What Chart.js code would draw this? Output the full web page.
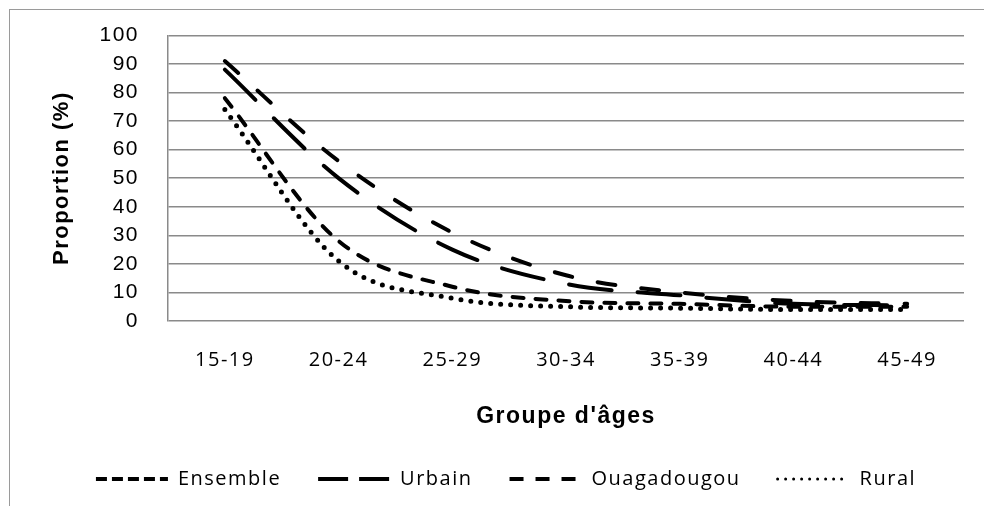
<!DOCTYPE html>
<html lang="fr">
<head>
    <meta charset="UTF-8">
    <title>Proportion par groupe d'âges</title>
    <script src="https://cdn.jsdelivr.net/npm/chart.js"></script>
    <style>
        html, body { margin: 0; padding: 0; background: #fff; }
        #wrap { width: 984px; height: 506px; }
    </style>
</head>
<body>
    <div id="wrap"><canvas id="ageChart"></canvas></div>

    <script>
        // Groupes d'âges et proportions (%)
        const groupes = ['15-19', '20-24', '25-29', '30-34', '35-39', '40-44', '45-49'];
        const ensemble = [78, 28, 12, 7, 6, 5, 5];
        const urbain = [88, 50, 25, 13, 9, 6, 5.5];
        const ouagadougou = [91, 56, 31, 16, 10, 7, 6];
        const rural = [74, 21, 8, 5, 4.5, 4, 4];

        // motifs de tirets pour la légende (plus courts que sur les courbes)
        const legendDash = [[11, 5], [30, 11], [14, 12], [0, 8]];

        const gridGray = '#8a8a8a';

        // cadre gris autour du graphique + espacement des lettres
        const framePlugin = {
            id: 'frame',
            beforeLayout(chart) {
                chart.ctx.letterSpacing = '1.5px';
            },
            beforeDraw(chart) {
                const ctx = chart.ctx;
                ctx.save();
                ctx.fillStyle = '#fff';
                ctx.fillRect(0, 0, chart.width, chart.height);
                ctx.strokeStyle = '#9a9a9a';
                ctx.lineWidth = 1;
                ctx.strokeRect(9.5, 9.5, chart.width + 50, chart.height + 50);
                ctx.restore();
                ctx.letterSpacing = '1.5px';
            }
        };

        const serie = (label, data, dash, width) => ({
            label: label,
            data: data,
            borderColor: '#000',
            backgroundColor: '#000',
            borderWidth: width,
            borderDash: dash,
            borderCapStyle: 'round',
            pointRadius: 0,
            cubicInterpolationMode: 'monotone',
            fill: false
        });

        new Chart(document.getElementById('ageChart'), {
            type: 'line',
            data: {
                labels: groupes,
                datasets: [
                    serie('Ensemble', ensemble, [11, 12], 4),
                    serie('Urbain', urbain, [43, 26], 4),
                    serie('Ouagadougou', ouagadougou, [18, 26], 4),
                    serie('Rural', rural, [0, 10], 5)
                ]
            },
            options: {
                responsive: true,
                maintainAspectRatio: false,
                animation: false,
                layout: { padding: { top: 28, right: 20, bottom: 7, left: 48 } },
                plugins: {
                    tooltip: { enabled: false },
                    legend: {
                        position: 'bottom',
                        labels: {
                            usePointStyle: true,
                            pointStyle: 'line',
                            pointStyleWidth: 72,
                            padding: 37,
                            color: '#000',
                            font: { family: 'Open Sans', size: 20 },
                            generateLabels(chart) {
                                const items = Chart.defaults.plugins.legend.labels.generateLabels(chart);
                                items.forEach((it, i) => {
                                    it.lineDash = legendDash[i];
                                    it.lineCap = i === 3 ? 'round' : 'butt';
                                    it.lineWidth = i === 3 ? 3 : 4;
                                });
                                return items;
                            }
                        }
                    }
                },
                scales: {
                    x: {
                        offset: true,
                        grid: { display: false },
                        border: { display: false },
                        ticks: {
                            color: '#000',
                            maxRotation: 0,
                            autoSkip: false,
                            padding: 19,
                            font: { family: 'Open Sans', size: 20 }
                        },
                        title: {
                            display: true,
                            text: "Groupe d'âges",
                            color: '#000',
                            padding: { top: 0, bottom: 4 },
                            font: { family: 'Liberation Sans', size: 23, weight: 'bold', lineHeight: 1 }
                        },
                        afterFit(scale) { scale.height = 111; }
                    },
                    y: {
                        min: 0,
                        max: 100,
                        grid: { color: gridGray, lineWidth: 1.5, drawTicks: false },
                        border: { display: true, color: gridGray, width: 1.5 },
                        ticks: {
                            stepSize: 10,
                            autoSkip: false,
                            color: '#000',
                            padding: 29,
                            // hauteur de ligne réduite : la marge haute reste à 35 px
                            font: { family: 'Liberation Sans', size: 21, lineHeight: 0.6 }
                        },
                        title: {
                            display: true,
                            text: 'Proportion (%)',
                            color: '#000',
                            padding: { top: 3, bottom: 0 },
                            font: { family: 'Liberation Sans', size: 22, weight: 'bold', lineHeight: 1 }
                        },
                        afterFit(scale) { scale.width = 120; }
                    }
                }
            },
            plugins: [framePlugin]
        });
    </script>
</body>
</html>
